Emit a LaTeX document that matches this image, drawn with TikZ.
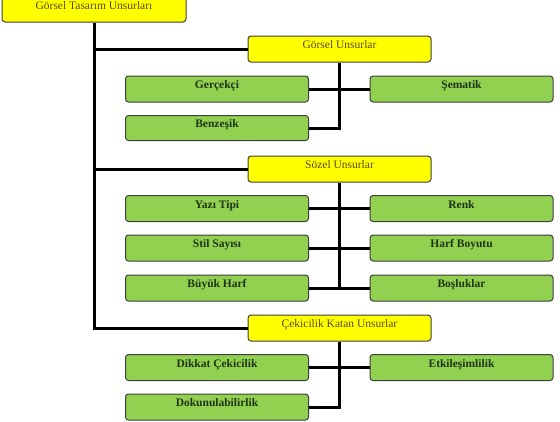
\documentclass[tikz,border=0pt]{standalone}
\usepackage{fontspec}
\setmainfont{Liberation Serif}
\definecolor{boxgreen}{HTML}{92D050}
\definecolor{boxyellow}{HTML}{FFFF00}
\definecolor{edge}{HTML}{3F3F3F}
\definecolor{ytext}{HTML}{5A4A10}
\definecolor{gtext}{HTML}{1E3418}
\tikzset{
  base/.style={draw=edge, line width=1pt, rounded corners=3pt, minimum width=183pt, minimum height=26pt, inner sep=0pt, text height=6pt, text depth=7pt, font=\fontsize{11.5}{13}\selectfont},
  ybox/.style={base, fill=boxyellow, text=ytext},
  gbox/.style={base, fill=boxgreen, text=gtext, font=\fontsize{11.5}{13}\selectfont\bfseries},
  conn/.style={line width=3pt, black}
}
\begin{document}
\begin{tikzpicture}[x=1pt, y=-1pt]
\useasboundingbox (0,0) rectangle (560,421);
\node[ybox, minimum width=184pt, minimum height=25pt] (root) at (94,9.5) {Görsel Tasarım Unsurları};
\node[ybox] (gor) at (339.5,49) {Görsel Unsurlar};
\node[ybox] (soz) at (339.5,169) {Sözel Unsurlar};
\node[ybox] (cek) at (339.5,328) {Çekicilik Katan Unsurlar};
\node[gbox] (ger) at (217,89) {Gerçekçi};
\node[gbox] (sem) at (461.5,89) {Şematik};
\node[gbox, minimum height=25pt] (ben) at (217,128) {Benzeşik};
\node[gbox] (yaz) at (217,208.5) {Yazı Tipi};
\node[gbox] (ren) at (461.5,208.5) {Renk};
\node[gbox] (sti) at (217,248) {Stil Sayısı};
\node[gbox] (har) at (461.5,248) {Harf Boyutu};
\node[gbox] (buy) at (217,288) {Büyük Harf};
\node[gbox] (bos) at (461.5,288) {Boşluklar};
\node[gbox] (dik) at (217,367.5) {Dikkat Çekicilik};
\node[gbox] (etk) at (461.5,367.5) {Etkileşimlilik};
\node[gbox] (dok) at (217,407) {Dokunulabilirlik};
\draw[conn] (root.south) -- (root.south |- cek.west) -- (cek.west);
\draw[conn] (root.south |- gor.west) -- (gor.west);
\draw[conn] (root.south |- soz.west) -- (soz.west);
\draw[conn] (gor.south) -- (gor.south |- ben.east) -- (ben.east);
\draw[conn] (ger.east) -- (sem.west);
\draw[conn] (soz.south) -- (soz.south |- buy.east) -- (buy.east);
\draw[conn] (yaz.east) -- (ren.west);
\draw[conn] (sti.east) -- (har.west);
\draw[conn] (buy.east) -- (bos.west);
\draw[conn] (cek.south) -- (cek.south |- dok.east) -- (dok.east);
\draw[conn] (dik.east) -- (etk.west);
\end{tikzpicture}
\end{document}
